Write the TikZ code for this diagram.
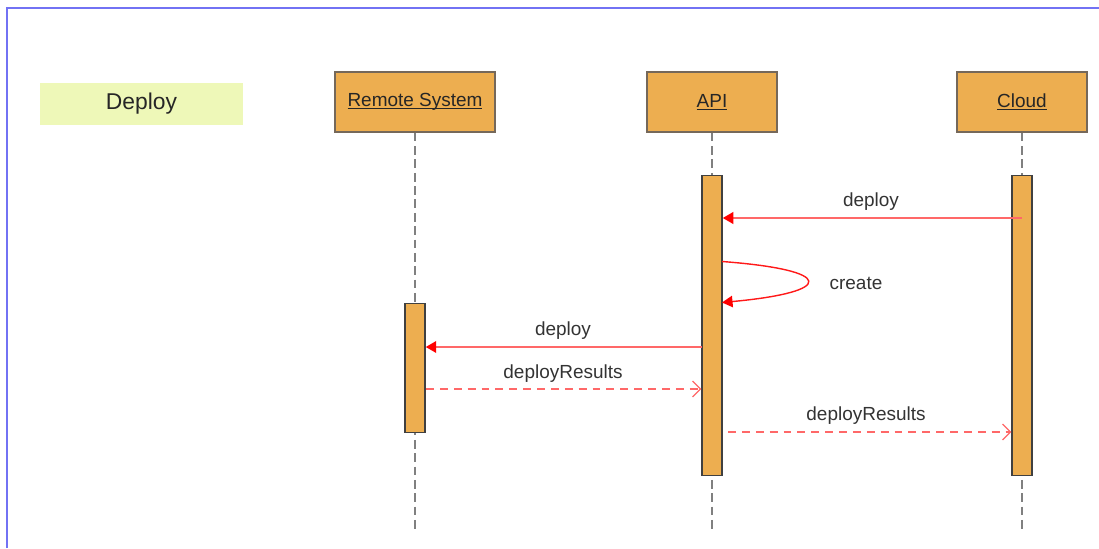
\documentclass[tikz,border=0pt]{standalone}
\usepackage{fontspec}
\setmainfont{Liberation Sans}
\usetikzlibrary{arrows.meta,positioning}
\definecolor{frameblue}{HTML}{7272F4}
\definecolor{lime}{HTML}{EEF8B8}
\definecolor{amber}{HTML}{EDAE50}
\definecolor{umber}{HTML}{75685A}
\definecolor{wire}{HTML}{FF6868}
\colorlet{life}{black!50}
\newcommand\ulabel[1]{\setbox0\hbox{#1}\rlap{\rule[-1.6pt]{\wd0}{0.6pt}}\box0}

\begin{document}
\begin{tikzpicture}[x=0.02cm,y=-0.02cm,font=\fontsize{10.8}{13}\selectfont,
    actor/.style={draw=umber,fill=amber,line width=0.8pt,minimum height=1.2cm,inner sep=0pt,text=black!85},
    bar/.style={draw=black!75,fill=amber,line width=0.8pt,minimum width=0.4cm,inner sep=0pt,anchor=north},
    lifeline/.style={life,line width=1pt,dash pattern=on 5pt off 2.6pt},
    call/.style={wire,line width=1.3pt,-{Triangle[length=6pt,width=6.5pt,fill=red,color=red]}},
    selfcall/.style={red!90,line width=0.8pt,-{Triangle[length=6pt,width=6.5pt,fill=red,color=red]}},
    reply/.style={wire,line width=1.3pt,dash pattern=on 4.5pt off 3.4pt,-{Straight Barb[length=4.5pt,width=9pt,line width=0.7pt]}},
    lbl/.style={text=black!80,inner sep=1pt}]
    \useasboundingbox (0,0) rectangle (1099,548);
    \draw[frameblue,line width=1.3pt] (7,548) -- (7,8) -- (1099,8);

    \node[fill=lime,minimum width=4.06cm,minimum height=0.86cm,font=\fontsize{13}{15}\selectfont,text=black!85] (title) at (141.5,104) {Deploy};

    \node[actor,minimum width=3.2cm] (rem) at (415,102) {\ulabel{Remote System}};
    \node[actor,minimum width=2.6cm] (api) at (712,102) {\ulabel{API}};
    \node[actor,minimum width=2.6cm] (cloud) at (1022,102) {\ulabel{Cloud}};

    \coordinate (remend) at (415,530);
    \coordinate (apiend) at (712,530);
    \coordinate (cloudend) at (1022,530);
    \draw[lifeline] (rem.south) -- (remend);
    \draw[lifeline] (api.south) -- (apiend);
    \draw[lifeline] (cloud.south) -- (cloudend);

    \node[bar,minimum height=2.58cm] (rembar) at (415,303) {};
    \node[bar,minimum height=6cm] (apibar) at (712,175) {};
    \node[bar,minimum height=6cm] (cloudbar) at (1022,175) {};

    % messages
    \coordinate (m1) at (1022,218);
    \draw[call] (m1) -- (m1 -| apibar.east);
    \node[lbl] (l1) at (871,202) {deploy};

    \coordinate (m2) at (722,261.5);
    \coordinate (m2b) at (722,302.5);
    \draw[selfcall] (m2) .. controls (836,270) and (836,292) .. (m2b);
    \node[lbl] (l2) at (856,283) {create};

    \coordinate (m3) at (702,347);
    \draw[call] (m3) -- (m3 -| rembar.east);
    \node[lbl] (l3) at (563,331) {deploy};

    \coordinate (m4) at (426,389);
    \draw[reply] (m4) -- (m4 -| apibar.west);
    \node[lbl] (l4) at (563,374) {deployResults};

    \coordinate (m5) at (728,432);
    \draw[reply] (m5) -- (m5 -| cloudbar.west);
    \node[lbl] (l5) at (866,416) {deployResults};
\end{tikzpicture}
\end{document}
